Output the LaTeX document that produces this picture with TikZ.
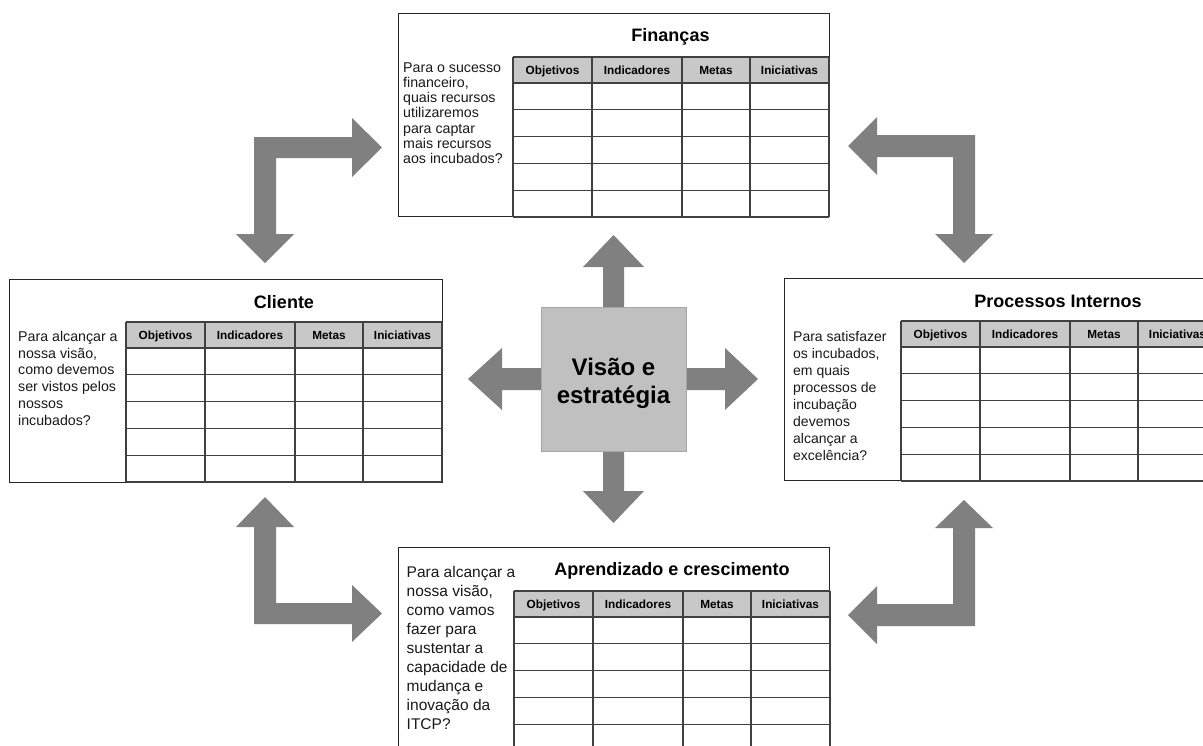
\documentclass[tikz,border=0pt]{standalone}
\usepackage{fontspec}
\setmainfont{Liberation Sans}
\definecolor{hdrgray}{HTML}{C8C8C8}
\definecolor{boxgray}{HTML}{C0C0C0}
\definecolor{arrgray}{HTML}{808080}
\definecolor{linegray}{HTML}{404040}
\newcommand{\qstrut}{\rule{0pt}{11pt}}
\tikzset{
  frame/.style={draw=black!85, line width=0.9pt, fill=white, inner sep=0pt, anchor=north west},
  tline/.style={draw=linegray, line width=1.1pt},
  hdrtxt/.style={font=\fontsize{11.8}{14}\bfseries\selectfont, anchor=base, inner sep=0pt},
  ttl/.style={font=\fontsize{18}{20}\bfseries\selectfont, anchor=base, inner sep=0pt},
  qtext/.style={align=left, inner sep=0pt, anchor=north west, text=black!90},
  bigarrow/.style={fill=arrgray, draw=none},
}
\newcommand{\bsctab}[3]{%
  \begin{scope}[shift={(#2,#3)}]
    \fill[hdrgray] (0,0) rectangle (316,26);
    \foreach \yy in {0,26,52.8,79.6,106.4,133.2,160} \draw[tline] (0,\yy) -- (316,\yy);
    \foreach \xx in {0,79,169,237,316} \draw[tline] (\xx,0) -- (\xx,160);
    \node[hdrtxt] (#1h1) at (39.5,17.3) {Objetivos};
    \node[hdrtxt] (#1h2) at (124,17.3) {Indicadores};
    \node[hdrtxt] (#1h3) at (203,17.3) {Metas};
    \node[hdrtxt] (#1h4) at (276.5,17.3) {Iniciativas};
  \end{scope}}
\begin{document}
\begin{tikzpicture}[x=1pt,y=-1pt]
\clip (0,0) rectangle (1203,745);
\fill[white] (0,0) rectangle (1203,745);

% bent arrows
\fill[bigarrow] (382,147.5) -- (352,118) -- (352,137) -- (254,137) -- (254,234) -- (236,234)
  -- (265,263) -- (294,234) -- (276,234) -- (276,158) -- (352,158) -- (352,177) -- cycle;
\fill[bigarrow] (848,146) -- (877,117) -- (877,135) -- (975,135) -- (975,234) -- (993,234)
  -- (964,263) -- (935,234) -- (953,234) -- (953,157) -- (877,157) -- (877,175) -- cycle;
\fill[bigarrow] (265,497) -- (294,527) -- (276,527) -- (276,603) -- (352,603) -- (352,585)
  -- (382,613.5) -- (352,642) -- (352,624) -- (254,624) -- (254,527) -- (236,527) -- cycle;
\fill[bigarrow] (964,500) -- (993,528) -- (975,528) -- (975,626) -- (877,626) -- (877,644)
  -- (848,615) -- (877,586) -- (877,604) -- (953,604) -- (953,528) -- (935,528) -- cycle;

% central arrows
\fill[bigarrow] (603,310) -- (603,267) -- (583,267) -- (613.5,235) -- (644,267) -- (624,267) -- (624,310) -- cycle;
\fill[bigarrow] (603,448) -- (603,491) -- (583,491) -- (613.5,523) -- (644,491) -- (624,491) -- (624,448) -- cycle;
\fill[bigarrow] (544,368) -- (502,368) -- (502,348) -- (468,379) -- (502,410) -- (502,390) -- (544,390) -- cycle;
\fill[bigarrow] (683,368) -- (725,368) -- (725,348) -- (758,379) -- (725,410) -- (725,390) -- (683,390) -- cycle;

% central square
\node[draw=black!35, line width=0.8pt, fill=boxgray, minimum width=145pt, minimum height=144pt] (vis) at (613.5,379) {};
\node[align=center, inner sep=0pt, font=\fontsize{24}{28}\bfseries\selectfont] (vist) at (613.5,383) {Visão e\\estratégia};

% frames
\node[frame, minimum width=431pt, minimum height=203pt] (fin) at (398,13) {};
\node[frame, minimum width=433pt, minimum height=203pt] (cli) at (9,279) {};
\node[frame, minimum width=433pt, minimum height=202pt] (pro) at (784,278) {};
\node[frame, minimum width=431pt, minimum height=230pt] (apr) at (398,547) {};

% tables
\bsctab{fin}{513}{57}
\bsctab{cli}{126}{322}
\bsctab{pro}{901}{321}
\bsctab{apr}{514}{591}

% titles
\node[ttl] (fint) at (670.5,41) {Finanças};
\node[ttl] (clit) at (284,308) {Cliente};
\node[ttl] (prot) at (1058,307) {Processos Internos};
\node[ttl] (aprt) at (672,575) {Aprendizado e crescimento};

% questions
\node[qtext, font=\fontsize{14.2}{15.2}\selectfont] (finq) at (403,61)
  {\qstrut Para o sucesso\\financeiro,\\quais recursos\\utilizaremos\\para captar\\mais recursos\\aos incubados?};
\node[qtext, font=\fontsize{14.2}{16.8}\selectfont] (cliq) at (18,330)
  {\qstrut Para alcançar a\\nossa visão,\\como devemos\\ser vistos pelos\\nossos\\incubados?};
\node[qtext, font=\fontsize{14}{17}\selectfont] (proq) at (793,330)
  {\qstrut Para satisfazer\\os incubados,\\em quais\\processos de\\incubação\\devemos\\alcançar a\\excelência?};
\node[qtext, font=\fontsize{15.5}{19}\selectfont] (aprq) at (406.5,566)
  {\qstrut Para alcançar a\\nossa visão,\\como vamos\\fazer para\\sustentar a\\capacidade de\\mudança e\\inovação da\\ITCP?};
\end{tikzpicture}
\end{document}
